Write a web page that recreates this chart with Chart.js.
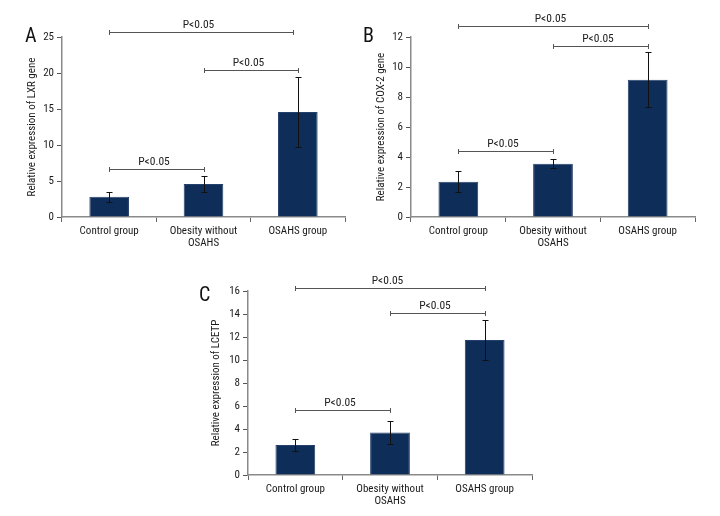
<!DOCTYPE html>
<html>
<head>
<meta charset="utf-8">
<script src="https://cdn.jsdelivr.net/npm/chart.js@4.4.0/dist/chart.umd.min.js"></script>
<style>
  body { margin: 0; background: #fff; }
  #wrap { position: relative; width: 720px; height: 516px; overflow: hidden; }
  canvas { position: absolute; }
  .panel { position: absolute; font-family: 'Roboto Condensed', 'DejaVu Sans Condensed', sans-serif; font-size: 20px; line-height: 1; color: #111; }
</style>
</head>
<body>
<div id="wrap">
  <canvas id="chartA" width="360" height="260" style="left:0px;top:0px"></canvas>
  <canvas id="chartB" width="360" height="260" style="left:360px;top:0px"></canvas>
  <canvas id="chartC" width="360" height="256" style="left:180px;top:260px"></canvas>
  <div class="panel" style="left:25px;top:25px">A</div>
  <div class="panel" style="left:363px;top:25px">B</div>
  <div class="panel" style="left:199px;top:284px">C</div>
</div>
<script>
const FONT = "'Roboto Condensed', 'DejaVu Sans Condensed', sans-serif";

const categories = ['Control group', ['Obesity without', 'OSAHS'], 'OSAHS group'];

// panel A - LXR
const lxrValues = [2.8, 4.6, 14.6];
const lxrErrors = [0.7, 1.1, 4.9];
const lxrTicks = { max: 25, step: 5 };
// [from category, to category, y value]
const lxrBrackets = [[0, 1.95, 25.7], [1, 2, 20.4], [0, 1, 6.6]];

// panel B - COX-2
const coxValues = [2.35, 3.55, 9.15];
const coxErrors = [0.7, 0.3, 1.85];
const coxTicks = { max: 12, step: 2 };
const coxBrackets = [[0, 2, 12.75], [1, 2, 11.37], [0, 1, 4.42]];

// panel C - LCETP
const lcetpValues = [2.6, 3.7, 11.75];
const lcetpErrors = [0.55, 0.97, 1.75];
const lcetpTicks = { max: 16, step: 2 };
const lcetpBrackets = [[0, 2, 16.25], [1, 2, 14.1], [0, 1, 5.63]];

const sigLabel = 'P<0.05';

const extrasPlugin = {
  id: 'extras',
  afterDatasetsDraw(chart, args, opts) {
    const ctx = chart.ctx;
    const x = chart.scales.x, y = chart.scales.y;
    ctx.save();
    // error bars
    ctx.strokeStyle = '#111';
    ctx.lineWidth = 1;
    opts.values.forEach((v, i) => {
      const px = Math.round(x.getPixelForValue(i)) + 0.5;
      const top = Math.round(y.getPixelForValue(v + opts.errors[i])) + 0.5;
      const bot = Math.round(y.getPixelForValue(v - opts.errors[i])) + 0.5;
      ctx.beginPath();
      ctx.moveTo(px, top); ctx.lineTo(px, bot);
      ctx.moveTo(px - 3, top); ctx.lineTo(px + 3, top);
      ctx.moveTo(px - 3, bot); ctx.lineTo(px + 3, bot);
      ctx.stroke();
    });
    // significance brackets
    ctx.strokeStyle = '#555';
    ctx.fillStyle = '#222';
    ctx.font = '11.5px ' + FONT;
    ctx.textAlign = 'center';
    ctx.textBaseline = 'bottom';
    opts.brackets.forEach(b => {
      const x1 = Math.round(x.getPixelForValue(b[0])) + 0.5;
      const x2 = Math.round(x.getPixelForValue(b[1])) + 0.5;
      const py = Math.round(y.getPixelForValue(b[2])) + 0.5;
      ctx.beginPath();
      ctx.moveTo(x1, py); ctx.lineTo(x2, py);
      ctx.moveTo(x1, py - 2.5); ctx.lineTo(x1, py + 2.5);
      ctx.moveTo(x2, py - 2.5); ctx.lineTo(x2, py + 2.5);
      ctx.stroke();
      ctx.fillText(sigLabel, (x1 + x2) / 2 - 3, py - 2);
    });
    ctx.restore();
  }
};

const makeChart = (id, values, errors, brackets, tickInfo, yTitle, box) => {
  new Chart(document.getElementById(id), {
    type: 'bar',
    data: {
      labels: categories,
      datasets: [{
        data: values,
        backgroundColor: '#0e2d59',
        borderColor: '#25406a',
        borderWidth: 1,
        categoryPercentage: 1,
        barPercentage: 0.42
      }]
    },
    options: {
      responsive: false,
      animation: false,
      layout: { padding: { top: box.top, right: box.right, left: 0, bottom: 0 } },
      plugins: {
        legend: { display: false },
        tooltip: { enabled: false },
        extras: { values: values, errors: errors, brackets: brackets }
      },
      scales: {
        x: {
          grid: { offset: true, drawOnChartArea: false, tickLength: 5, color: '#666' },
          border: { color: '#8a8a8a', width: 1.5 },
          ticks: { color: '#1a1a1a', font: { family: FONT, size: 11, lineHeight: 1.1 }, padding: 3, maxRotation: 0, autoSkip: false },
          afterFit: s => { s.height = box.xHeight; }
        },
        y: {
          min: 0,
          max: tickInfo.max,
          ticks: { stepSize: tickInfo.step, color: '#1a1a1a', font: { family: FONT, size: 11 }, padding: 3 },
          grid: { drawOnChartArea: false, tickLength: 5, color: '#555' },
          border: { color: '#8a8a8a', width: 1.5 },
          title: { display: true, text: yTitle, color: '#1a1a1a', font: { family: FONT, size: 11 }, padding: { top: box.titleOffset, bottom: 0 } },
          afterFit: s => { s.width = box.yWidth; }
        }
      }
    },
    plugins: [extrasPlugin]
  });
};

makeChart('chartA', lxrValues, lxrErrors, lxrBrackets, lxrTicks, 'Relative expression of LXR gene',
  { top: 37, right: 15, xHeight: 43, yWidth: 62, titleOffset: 25.4 });
makeChart('chartB', coxValues, coxErrors, coxBrackets, coxTicks, 'Relative expression of COX-2 gene',
  { top: 37, right: 25, xHeight: 43, yWidth: 51, titleOffset: 15.1 });
makeChart('chartC', lcetpValues, lcetpErrors, lcetpBrackets, lcetpTicks, 'Relative expression of LCETP',
  { top: 31, right: 8, xHeight: 41, yWidth: 68, titleOffset: 30.1 });
</script>
</body>
</html>
